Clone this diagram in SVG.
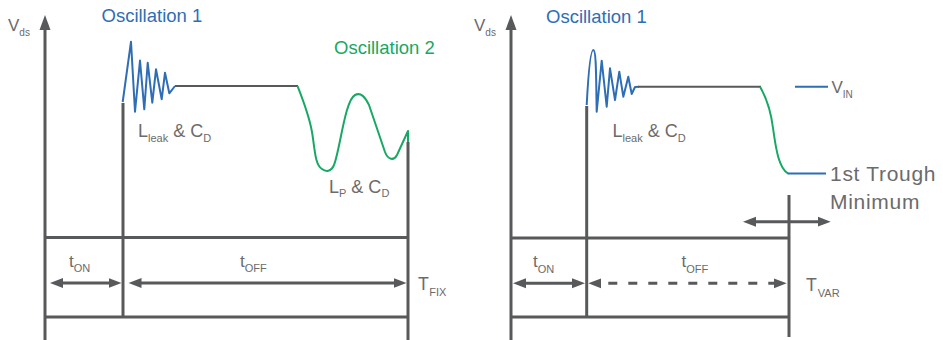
<svg xmlns="http://www.w3.org/2000/svg" width="943" height="340" viewBox="0 0 943 340">
<style>
.ax{stroke:#58595b;stroke-width:3;fill:none}
.sig{stroke:#58595b;stroke-width:2;fill:none}
.blue{stroke:#2f6db5;stroke-width:2;fill:none;stroke-linejoin:round}
.green{stroke:#17a864;stroke-width:2;fill:none;stroke-linejoin:round}
.dbl{stroke:#58595b;stroke-width:3;fill:none;marker-start:url(#ah);marker-end:url(#ah)}
.up{marker-end:url(#axh)}
.dash{stroke-dasharray:9 11;stroke-dashoffset:6}
text{font-family:"Liberation Sans",Arial,sans-serif;fill:#6b6b6b}
.tb{fill:#2f6db5}
.tg{fill:#17a864}
</style>
<defs>
<marker id="ah" markerUnits="userSpaceOnUse" markerWidth="14" markerHeight="12" refX="7" refY="6" orient="auto-start-reverse">
<path d="M0,1 L13,6 L0,11 Z" fill="#58595b"/>
</marker>
<marker id="axh" markerUnits="userSpaceOnUse" markerWidth="16" markerHeight="14" refX="8" refY="7" orient="auto">
<path d="M0,1.5 L15,7 L0,12.5 Z" fill="#58595b"/>
</marker>
</defs>

<g id="left-diagram">
<g id="left-axis">
<line class="ax up" x1="45" y1="340" x2="45" y2="22"/>
<text x="8" y="31" font-size="17">V<tspan font-size="10" dy="5">ds</tspan></text>
</g>
<g id="left-signal">
<line class="ax" x1="123" y1="103" x2="123" y2="317"/>
<polyline class="blue" points="122.7,102 131,41.7 135,111.7 140,60.5 144.3,109.3 147.7,62.7 152.3,102.7 156,69.3 161.7,99.3 165,72.7 169.3,93.3 175,86"/>
<line class="sig" x1="175" y1="86" x2="298" y2="86"/>
<path class="green" d="M297.5,86 C303,100 309,115 312,132 C315,150 315,165 322,169 C326,172 331,172 334,165 C340,150 345,100 355,95 C361,92 365,97 369,105 L385,152 C388,160 394,161 397,155 L408,131 L408,143"/>
<line class="ax" x1="408" y1="142" x2="408" y2="340"/>
</g>
<g id="left-labels">
<text class="tb" x="101.5" y="21.7" font-size="18.5">Oscillation 1</text>
<text class="tg" x="334" y="54" font-size="18.5">Oscillation 2</text>
<text x="138" y="137" font-size="18">L<tspan font-size="11" dy="5">leak</tspan><tspan dy="-5"> &amp; C</tspan><tspan font-size="11" dy="5">D</tspan></text>
<text x="329" y="192.5" font-size="18">L<tspan font-size="11" dy="4.5">P</tspan><tspan dy="-4.5"> &amp; C</tspan><tspan font-size="11" dy="4.5">D</tspan></text>
</g>
<g id="left-timing">
<line class="ax" x1="45" y1="237.5" x2="408" y2="237.5"/>
<line class="ax" x1="45" y1="317" x2="408" y2="317"/>
<line class="dbl" x1="56" y1="283" x2="115.5" y2="283"/>
<line class="dbl" x1="134.5" y1="283" x2="400.5" y2="283"/>
<text x="69" y="267" font-size="17">t<tspan font-size="11" dy="5">ON</tspan></text>
<text x="240" y="267" font-size="17">t<tspan font-size="11" dy="5">OFF</tspan></text>
<text x="418" y="290" font-size="17.7">T<tspan font-size="11" dy="6" dx="0.5">FIX</tspan></text>
</g>
</g>

<g id="right-diagram">
<g id="right-axis">
<line class="ax up" x1="511" y1="340" x2="511" y2="22"/>
<text x="474" y="31" font-size="17">V<tspan font-size="10" dy="5">ds</tspan></text>
</g>
<g id="right-signal">
<line class="ax" x1="586.7" y1="106" x2="586.7" y2="317"/>
<path class="blue" d="M586.7,105 C588,80 590,50 593.3,50 C596.5,50 596,80 596.7,111.7 L601.7,60.7 L606.7,106.7 L610,68.3 L615,100 L619.3,71.7 L623.3,96.7 L628.3,76.7 L631.7,94 L635,87 L639,86.7"/>
<line class="sig" x1="638" y1="86.7" x2="761" y2="86.7"/>
<path class="green" d="M760,86.7 C766,97 771,112 773,128 C776,150 779,168 788,173.5"/>
<line class="blue" x1="787.5" y1="173.5" x2="826" y2="173.5"/>
<line class="blue" x1="795" y1="86.7" x2="828" y2="86.7"/>
<line class="ax" x1="789" y1="195" x2="789" y2="337"/>
</g>
<g id="right-labels">
<text class="tb" x="546" y="22.7" font-size="18.5">Oscillation 1</text>
<text x="612.5" y="137" font-size="18">L<tspan font-size="11" dy="5">leak</tspan><tspan dy="-5"> &amp; C</tspan><tspan font-size="11" dy="5">D</tspan></text>
<text x="831.5" y="93" font-size="17">V<tspan font-size="10" dy="5.3">IN</tspan></text>
<text x="830" y="180.7" font-size="21" letter-spacing="0.7">1st Trough</text>
<text x="830" y="208.5" font-size="21" letter-spacing="0.7">Minimum</text>
</g>
<g id="right-timing">
<line class="ax" x1="511" y1="238" x2="789" y2="238"/>
<line class="ax" x1="511" y1="317" x2="789" y2="317"/>
<line class="dbl" x1="519" y1="283.3" x2="579" y2="283.3"/>
<line class="dbl dash" x1="594.3" y1="283.3" x2="780.7" y2="283.3"/>
<line class="dbl" x1="749" y1="221.7" x2="824.7" y2="221.7"/>
<text x="533" y="267" font-size="17">t<tspan font-size="11" dy="5.5">ON</tspan></text>
<text x="681.5" y="267" font-size="17">t<tspan font-size="11" dy="5.5">OFF</tspan></text>
<text x="806" y="290.7" font-size="17.7">T<tspan font-size="11" dy="6" dx="1">VAR</tspan></text>
</g>
</g>
</svg>
